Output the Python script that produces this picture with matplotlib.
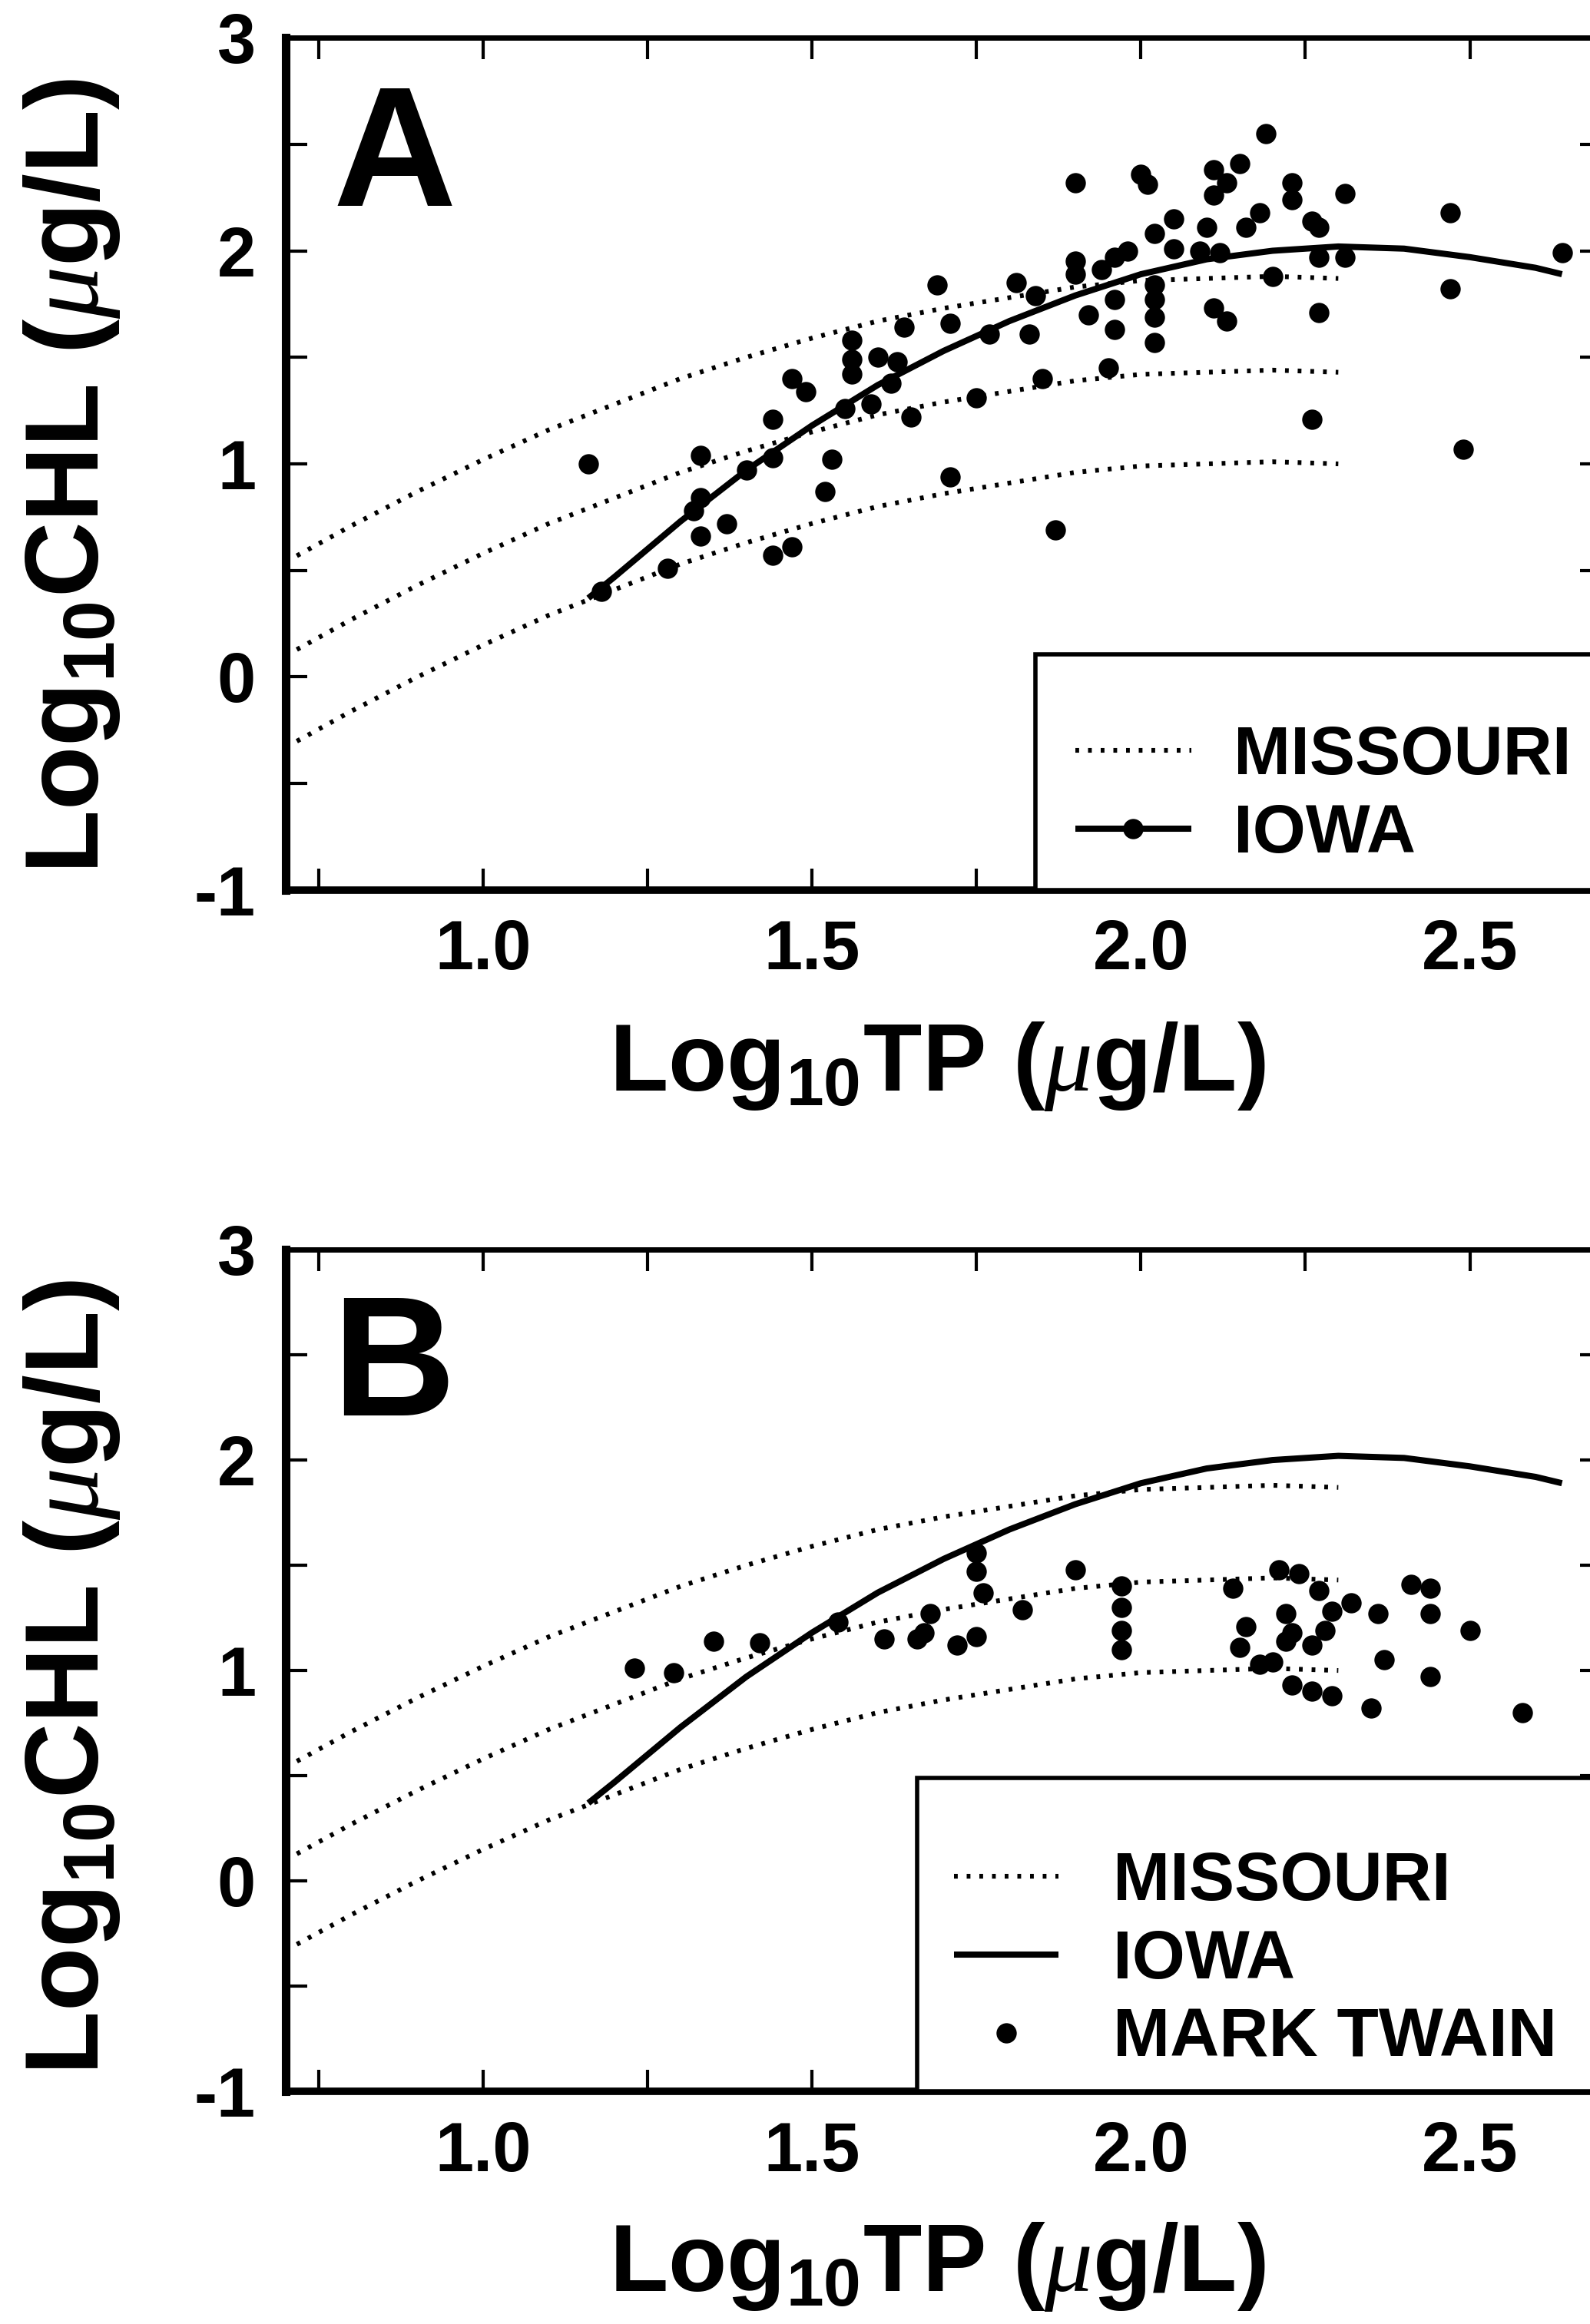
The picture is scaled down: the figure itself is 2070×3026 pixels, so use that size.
import matplotlib
matplotlib.use('Agg')
import matplotlib.pyplot as plt
from matplotlib.patches import Rectangle
from matplotlib.ticker import FixedLocator, FixedFormatter
from matplotlib.legend_handler import HandlerTuple

# ---------------- data ----------------
# Missouri model curves (three parallel dotted curves)
MO_X = [0.7, 0.8, 0.9, 1.0, 1.1, 1.2, 1.3, 1.4, 1.5, 1.6, 1.7, 1.8, 1.9, 2.0, 2.1, 2.2, 2.3]
MO_UPPER = [0.54, 0.71, 0.87, 1.02, 1.16, 1.28, 1.40, 1.50, 1.59, 1.67, 1.73, 1.78, 1.83, 1.86, 1.87, 1.88, 1.87]
MO_MID = [0.10, 0.27, 0.43, 0.58, 0.72, 0.84, 0.96, 1.06, 1.15, 1.23, 1.29, 1.34, 1.39, 1.42, 1.43, 1.44, 1.43]
MO_LOWER = [-0.33, -0.16, 0.00, 0.15, 0.29, 0.41, 0.53, 0.63, 0.72, 0.80, 0.86, 0.91, 0.96, 0.99, 1.00, 1.01, 1.00]

# Iowa fitted curve
IA_X = [1.16, 1.2, 1.3, 1.4, 1.5, 1.6, 1.7, 1.8, 1.9, 2.0, 2.1, 2.2, 2.3, 2.4, 2.5, 2.6, 2.64]
IA_Y = [0.37, 0.47, 0.73, 0.97, 1.18, 1.37, 1.53, 1.67, 1.79, 1.89, 1.96, 2.00, 2.02, 2.01, 1.97, 1.92, 1.89]

# Iowa lakes (panel A points)
IOWA_TP = [1.16, 1.18, 1.28, 1.32, 1.33, 1.33, 1.33, 1.37, 1.40, 1.44, 1.44, 1.44, 1.47, 1.47,
           1.49, 1.52, 1.53, 1.55, 1.56, 1.56, 1.56, 1.59, 1.60, 1.62, 1.63, 1.64, 1.65, 1.69,
           1.71, 1.71, 1.75, 1.77, 1.81, 1.83, 1.84, 1.85, 1.87, 1.90, 1.90, 1.90, 1.92, 1.94,
           1.95, 1.96, 1.96, 1.96, 1.98, 2.00, 2.01, 2.02, 2.02, 2.02, 2.02, 2.02, 2.05, 2.05,
           2.09, 2.10, 2.11, 2.11, 2.11, 2.12, 2.13, 2.13, 2.15, 2.16, 2.18, 2.19, 2.20, 2.23,
           2.23, 2.26, 2.27, 2.27, 2.27, 2.26, 2.31, 2.31, 2.47, 2.47, 2.49, 2.64]
IOWA_CHL = [1.00, 0.40, 0.51, 0.78, 0.84, 1.04, 0.66, 0.72, 0.97, 1.03, 1.21, 0.57, 0.61, 1.40,
            1.34, 0.87, 1.02, 1.26, 1.58, 1.49, 1.42, 1.28, 1.50, 1.38, 1.48, 1.64, 1.22, 1.84,
            1.66, 0.94, 1.31, 1.61, 1.85, 1.61, 1.79, 1.40, 0.69, 2.32, 1.95, 1.89, 1.70, 1.91,
            1.45, 1.97, 1.77, 1.63, 2.00, 2.36, 2.31, 2.08, 1.84, 1.77, 1.69, 1.57, 2.15, 2.01,
            2.00, 2.11, 2.38, 2.26, 1.73, 1.99, 1.67, 2.32, 2.41, 2.11, 2.18, 2.55, 1.88, 2.32,
            2.24, 2.14, 2.11, 1.97, 1.71, 1.21, 2.27, 1.97, 2.18, 1.82, 1.07, 1.99]

# Mark Twain Lake (panel B points)
MT_TP = [1.23, 1.29, 1.35, 1.42, 1.54, 1.61, 1.66, 1.68, 1.67, 1.72, 1.75, 1.75, 1.75, 1.76,
         1.82, 1.90, 1.97, 1.97, 1.97, 1.97, 2.14, 2.16, 2.15, 2.18, 2.20, 2.21, 2.24, 2.27,
         2.29, 2.32, 2.22, 2.23, 2.22, 2.28, 2.26, 2.23, 2.26, 2.29, 2.35, 2.36, 2.41, 2.44,
         2.44, 2.50, 2.37, 2.44, 2.58]
MT_CHL = [1.01, 0.99, 1.14, 1.13, 1.23, 1.15, 1.15, 1.27, 1.18, 1.12, 1.16, 1.56, 1.47, 1.37,
          1.29, 1.48, 1.40, 1.30, 1.19, 1.10, 1.39, 1.21, 1.11, 1.03, 1.04, 1.48, 1.46, 1.38,
          1.28, 1.32, 1.27, 1.18, 1.14, 1.19, 1.12, 0.93, 0.90, 0.88, 0.82, 1.27, 1.41, 1.39,
          1.27, 1.19, 1.05, 0.97, 0.80]

X_TICKS = [1.0, 1.5, 2.0, 2.5]
X_TICK_LABELS = ['1.0', '1.5', '2.0', '2.5']
X_MINOR = [0.75, 1.25, 1.75, 2.25]
Y_TICKS = [-1, 0, 1, 2, 3]
Y_TICK_LABELS = ['-1', '0', '1', '2', '3']
Y_MINOR = [-0.5, 0.5, 1.5, 2.5]

# ---------------- style ----------------
plt.rcParams['font.family'] = ['Liberation Sans', 'DejaVu Sans']
plt.rcParams['mathtext.fontset'] = 'custom'
plt.rcParams['mathtext.rm'] = 'Liberation Sans:bold'
plt.rcParams['mathtext.it'] = 'Liberation Serif:italic'
plt.rcParams['mathtext.default'] = 'regular'
plt.rcParams['axes.unicode_minus'] = False

fig = plt.figure(figsize=(20.7, 30.26), dpi=100)
axA = fig.add_axes([0.1797, 0.6170, 0.8275, 0.3668])
axB = fig.add_axes([0.1797, 0.1001, 0.8275, 0.3622])

DOT = (0, (0.8, 1.9))
DOT_LW = 4.4
IA_LW = 5.8
MS = 19
YLABEL = r'Log$_{10}$CHL ($\it{\mu}$g/L)'
XLABEL = r'Log$_{10}$TP ($\it{\mu}$g/L)'


def style_axes(ax):
    ax.set_xlim(0.7, 2.7)
    ax.set_ylim(-1, 3)
    ax.xaxis.set_major_locator(FixedLocator(X_TICKS))
    ax.xaxis.set_major_formatter(FixedFormatter(X_TICK_LABELS))
    ax.xaxis.set_minor_locator(FixedLocator(X_MINOR))
    ax.yaxis.set_major_locator(FixedLocator(Y_TICKS))
    ax.yaxis.set_major_formatter(FixedFormatter(Y_TICK_LABELS))
    ax.yaxis.set_minor_locator(FixedLocator(Y_MINOR))
    ax.tick_params(which='both', direction='in', length=20, width=3,
                   top=True, right=True, color='black')
    ax.tick_params(axis='x', which='major', pad=27, labelsize=65)
    ax.tick_params(axis='y', which='major', pad=28, labelsize=65)
    for lab in ax.get_xticklabels() + ax.get_yticklabels():
        lab.set_fontweight('bold')
    ax.spines['left'].set_linewidth(8)
    ax.spines['bottom'].set_linewidth(7)
    ax.spines['top'].set_linewidth(5)
    ax.spines['right'].set_linewidth(5)


def missouri(ax):
    lines = []
    for ys in (MO_UPPER, MO_MID, MO_LOWER):
        ln, = ax.plot(MO_X, ys, linestyle=DOT, lw=DOT_LW, color='black',
                      dash_capstyle='butt')
        lines.append(ln)
    return lines[0]


# ---------------- panel A ----------------
moA = missouri(axA)
iaA, = axA.plot(IA_X, IA_Y, '-', lw=IA_LW, color='black', solid_capstyle='butt')
ptsA, = axA.plot(IOWA_TP, IOWA_CHL, 'o', ms=MS, mew=0, color='black', linestyle='none')
style_axes(axA)
axA.add_patch(Rectangle((1.84, -1.0), 2.0, 1.105, fill=True, facecolor='white',
                        edgecolor='black', lw=4, zorder=4))
legA = axA.legend(handles=[moA, (iaA, ptsA)], labels=['MISSOURI', 'IOWA'],
                  handler_map={tuple: HandlerTuple(ndivide=1, pad=0)},
                  loc='center left', bbox_to_anchor=(1.90, -0.557),
                  bbox_transform=axA.transData, frameon=False,
                  prop={'size': 64, 'weight': 'bold'},
                  handlelength=1.7, handletextpad=0.62, labelspacing=0.2,
                  borderpad=0, borderaxespad=0, numpoints=1)
legA.set_zorder(5)
axA.text(0.083, 0.803, 'A', transform=axA.transAxes, fontsize=160,
         fontweight='bold', ha='center', va='baseline')
axA.set_ylabel(YLABEL, fontsize=98, fontweight='bold', va='center')
axA.yaxis.set_label_coords(-0.1623, 0.486)
axA.set_xlabel(XLABEL, fontsize=90, fontweight='bold', va='center')
axA.xaxis.set_label_coords(0.495, -0.207)

# ---------------- panel B ----------------
moB = missouri(axB)
iaB, = axB.plot(IA_X, IA_Y, '-', lw=IA_LW, color='black', solid_capstyle='butt')
ptsB, = axB.plot(MT_TP, MT_CHL, 'o', ms=MS, mew=0, color='black', linestyle='none')
style_axes(axB)
axB.add_patch(Rectangle((1.66, -1.0), 2.0, 1.49, fill=True, facecolor='white',
                        edgecolor='black', lw=4, zorder=4))
legB = axB.legend(handles=[moB, iaB, ptsB], labels=['MISSOURI', 'IOWA', 'MARK TWAIN'],
                  loc='center left', bbox_to_anchor=(1.716, -0.38),
                  bbox_transform=axB.transData, frameon=False,
                  prop={'size': 64, 'weight': 'bold'},
                  handlelength=1.53, handletextpad=0.8, labelspacing=0.2,
                  borderpad=0, borderaxespad=0, numpoints=1)
legB.set_zorder(5)
axB.text(0.082, 0.803, 'B', transform=axB.transAxes, fontsize=160,
         fontweight='bold', ha='center', va='baseline')
axB.set_ylabel(YLABEL, fontsize=98, fontweight='bold', va='center')
axB.yaxis.set_label_coords(-0.1623, 0.492)
axB.set_xlabel(XLABEL, fontsize=90, fontweight='bold', va='center')
axB.xaxis.set_label_coords(0.495, -0.208)

fig.savefig('out.png', dpi=100, facecolor='white')
